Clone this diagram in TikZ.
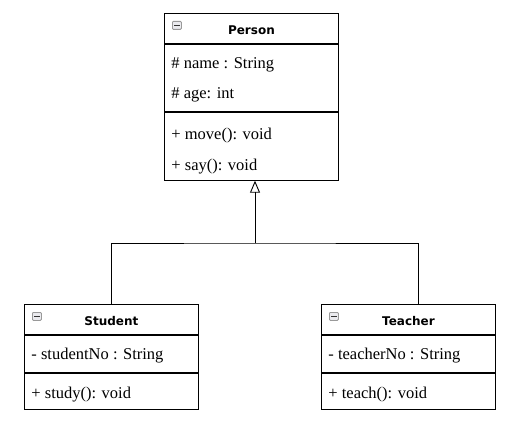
\documentclass[tikz,border=0pt]{standalone}
\usepackage{fontspec}
\setmainfont{Liberation Serif}
\newfontfamily\hdrfont{DejaVu Sans}
\usetikzlibrary{arrows.meta, positioning}

\begin{document}
\begin{tikzpicture}[x=1pt, y=-1pt, line width=0.9pt,
    compart/.style={draw, rectangle, inner sep=0pt, minimum width=174pt, anchor=north west},
    title/.style={inner sep=0pt, font=\hdrfont\bfseries\fontsize{12}{14}\selectfont},
    member/.style={anchor=west, inner sep=0pt, font=\fontsize{16.5}{19}\selectfont},
    toggle/.style={draw=gray!80, fill=blue!10!gray!15, rounded corners=1pt, line width=0.8pt,
        minimum width=9pt, minimum height=8pt, inner sep=0pt, anchor=north west},
    inherit/.style={-{Triangle[open, length=12pt, width=10pt]}}]
    \useasboundingbox (0,0) rectangle (516,425);
    %
    % Person
    \node[compart, minimum height=30pt] (person) at (164,13) {};
    \node[compart, minimum height=67pt] (personattr) at (person.south west) {};
    \node[compart, minimum height=68pt] (personops) at (personattr.south west) {};
    \node[title] (persontitle) at ([yshift=-2pt]person.center) {Person};
    \node[toggle] (persontoggle) at ([shift={(8,8)}]person.north west) {};
    \draw[line width=1.3pt, gray!40!black] ([xshift=2pt]persontoggle.west) -- ([xshift=-2pt]persontoggle.east);
    \node[member] (pname) at (171,65) {\# name : String};
    \node[member] (page) at (171,95) {\# age: int};
    \node[member] (pmove) at (171,136) {+ move(): void};
    \node[member] (psay) at (171,167) {+ say(): void};
    %
    % Student
    \node[compart, minimum height=30pt] (student) at (24,304) {};
    \node[compart, minimum height=37pt] (studentattr) at (student.south west) {};
    \node[compart, minimum height=36pt] (studentops) at (studentattr.south west) {};
    \node[title] (studenttitle) at ([yshift=-2pt]student.center) {Student};
    \node[toggle] (studenttoggle) at ([shift={(8,8)}]student.north west) {};
    \draw[line width=1.3pt, gray!40!black] ([xshift=2pt]studenttoggle.west) -- ([xshift=-2pt]studenttoggle.east);
    \node[member] (sno) at (31,356) {- studentNo : String};
    \node[member] (sstudy) at (31,395) {+ study(): void};
    %
    % Teacher
    \node[compart, minimum height=30pt] (teacher) at (321,304) {};
    \node[compart, minimum height=37pt] (teacherattr) at (teacher.south west) {};
    \node[compart, minimum height=36pt] (teacherops) at (teacherattr.south west) {};
    \node[title] (teachertitle) at ([yshift=-2pt]teacher.center) {Teacher};
    \node[toggle] (teachertoggle) at ([shift={(8,8)}]teacher.north west) {};
    \draw[line width=1.3pt, gray!40!black] ([xshift=2pt]teachertoggle.west) -- ([xshift=-2pt]teachertoggle.east);
    \node[member] (tno) at (328,356) {- teacherNo : String};
    \node[member] (tteach) at (328,395) {+ teach(): void};
    %
    % generalisation
    \coordinate (fork) at (255,243);
    \coordinate (teacherhook) at (418,304);
    \draw (student.north) |- (fork) -| (teacherhook);
    \draw[inherit] (fork) -- (fork |- personops.south);
\end{tikzpicture}
\end{document}
